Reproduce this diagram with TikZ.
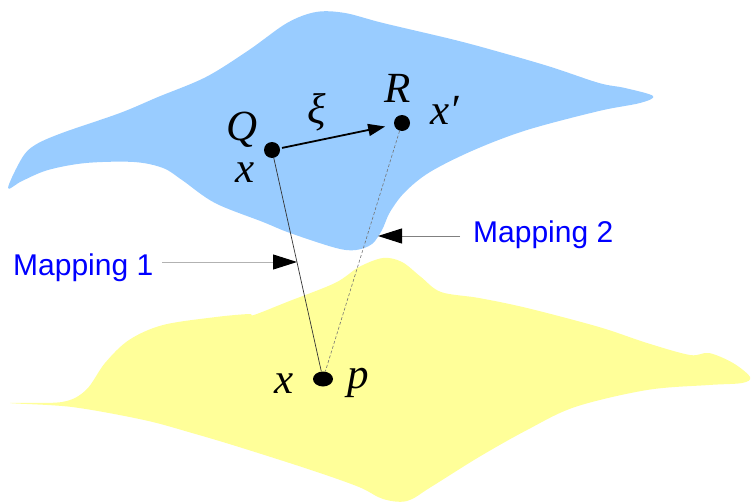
\documentclass[tikz,border=0pt]{standalone}
\usepackage{fontspec}
\setsansfont{Liberation Sans}
\newfontfamily\lblfont{Liberation Serif}
\usetikzlibrary{arrows.meta,shapes.geometric}
\definecolor{skyfill}{HTML}{99CCFF}
\definecolor{sandfill}{HTML}{FFFF99}
\definecolor{maptext}{HTML}{0000FF}
\tikzset{
  dotnode/.style={circle,fill=black,inner sep=0pt,minimum size=16pt},
  pdot/.style={ellipse,fill=black,inner sep=0pt,minimum width=20pt,minimum height=15pt},
  symlbl/.style={inner sep=0pt,font=\lblfont\itshape\fontsize{43}{46}\selectfont},
  maplbl/.style={inner sep=0pt,text=maptext,font=\sffamily\fontsize{30}{34}\selectfont},
  mapline/.style={line width=1pt,-{Triangle[length=24pt,width=15pt,color=black]}},
}
\begin{document}
\begin{tikzpicture}[x=1pt,y=-1pt]
\useasboundingbox (0,0) rectangle (751,503);
% upper (blue) sheet
\fill[skyfill] plot[smooth cycle,tension=0.55] coordinates {
 (8,188) (22,158) (35,145) (62,133) (120,113) (158,97) (206,77) (249,50)
 (287,23) (316,12) (345,13) (383,23) (455,40) (503,53) (551,67) (599,83)
 (625,88) (653,96) (640,103) (599,111) (527,130) (474,150) (430,172)
 (405,192) (390,212) (382,230) (372,244) (356,250) (336,248) (290,233)
 (263,222) (215,203) (182,180) (163,168) (134,162) (86,163) (48,170) (22,181)};
% lower (yellow) sheet
\fill[sandfill] plot[smooth cycle,tension=0.55] coordinates {
 (10,403) (62,402) (86,390) (105,363) (129,340) (163,325) (216,317) (249,314)
 (254,315) (287,302) (335,283) (359,267) (383,258) (402,262) (421,277)
 (441,292) (479,298) (527,308) (599,327) (647,343) (690,355) (709,353)
 (733,363) (750,377) (742,383) (709,385) (647,390) (575,407) (527,430)
 (479,457) (431,487) (407,501) (383,499) (359,487) (311,470) (239,447)
 (192,433) (144,420) (72,407)};
% points
\node[dotnode] (q) at (272,150) {};
\node[dotnode] (r) at (402,123) {};
\node[pdot] (p) at (323,379) {};
% mappings
\draw[line width=0.7pt,black!80] (q) -- (p);
\draw[line width=0.6pt,black!55,dash pattern=on 3pt off 2pt] (r) -- (p);
% tangent vector
\draw[line width=1.8pt,-{Triangle[length=17pt,width=12pt]},shorten <=2pt,shorten >=9pt] (q) -- (r);
% labels
\node[symlbl,anchor=base] (lq) at (242,140) {Q};
\node[symlbl,anchor=base] (lx) at (245,182) {x};
\node[symlbl] (lxi) at (317,112) {ξ};
\node[symlbl,anchor=base] (lr) at (398,102) {R};
\node[symlbl,anchor=base west] (lxp) at (430,124) {x′};
\node[symlbl,anchor=base] (lx2) at (284,393) {x};
\node[symlbl,anchor=base] (lp) at (358,388) {p};
% callouts
\node[maplbl,anchor=base west] (m1) at (13,275) {Mapping 1};
\node[maplbl,anchor=base west] (m2) at (473,242) {Mapping 2};
\coordinate (m1s) at (162,262);
\coordinate (m1t) at (297,262);
\coordinate (m2s) at (460,236);
\coordinate (m2t) at (378,236);
\draw[mapline,black!30] (m1s) -- (m1t);
\draw[mapline,black!50] (m2s) -- (m2t);
\end{tikzpicture}
\end{document}
